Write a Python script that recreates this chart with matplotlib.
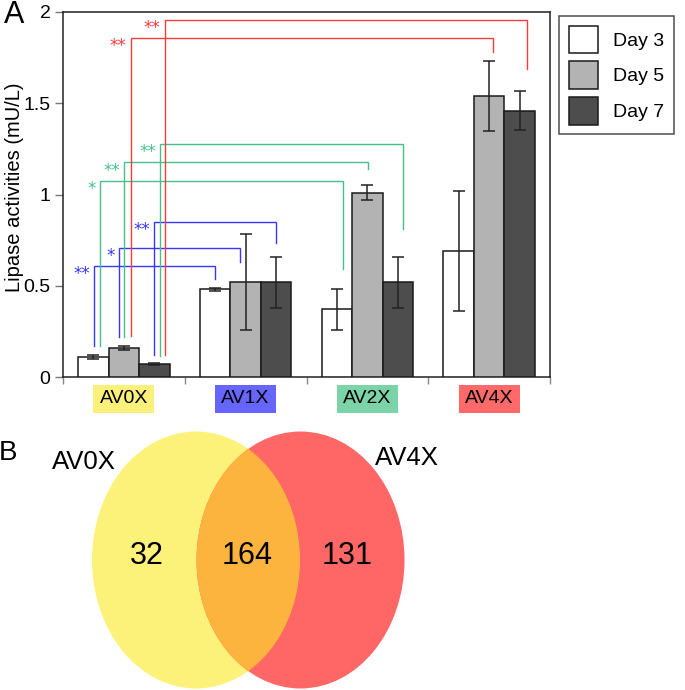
import matplotlib
matplotlib.use("Agg")
import matplotlib.pyplot as plt
from matplotlib.patches import Patch, Ellipse, Rectangle
from matplotlib.transforms import IdentityTransform
from matplotlib import font_manager
import numpy as np

# ---------------- data ----------------
groups = ["AV0X", "AV1X", "AV2X", "AV4X"]
days = ["Day 3", "Day 5", "Day 7"]
day3 = [0.11, 0.48, 0.37, 0.69]
day5 = [0.16, 0.52, 1.01, 1.54]
day7 = [0.07, 0.52, 0.52, 1.46]
err3 = [0.012, 0.01, 0.11, 0.33]
err5 = [0.012, 0.265, 0.04, 0.19]
err7 = [0.004, 0.14, 0.14, 0.105]

# significance comparisons: AV0X (day i) vs target group (same day)
sig_target = [1, 1, 1, 2, 2, 2, 3, 3]
sig_day = [0, 1, 2, 0, 1, 2, 1, 2]
sig_label = ["**", "*", "**", "*", "**", "**", "**", "**"]
sig_start = [0.17, 0.22, 0.122, 0.17, 0.22, 0.117, 0.225, 0.122]
sig_top = [0.608, 0.707, 0.849, 1.074, 1.176, 1.279, 1.858, 1.956]
sig_end = [0.539, 0.63, 0.733, 0.59, 1.14, 0.809, 1.78, 1.69]

venn_sets = ["AV0X", "AV4X"]
venn_only_a = 32
venn_both = 164
venn_only_b = 131

# ---------------- style ----------------
def has_font(name):
    try:
        font_manager.findfont(font_manager.FontProperties(family=name), fallback_to_default=False)
        return True
    except Exception:
        return False

main_font = "Liberation Sans" if has_font("Liberation Sans") else "DejaVu Sans"
narrow_font = "Liberation Sans Narrow" if has_font("Liberation Sans Narrow") else main_font
plt.rcParams["font.family"] = [main_font, "DejaVu Sans"]

bar_colors = ["#ffffff", "#b3b3b3", "#4d4d4d"]
group_colors = ["#fbf07a", "#6666ff", "#7dd3a8", "#ff6969"]
sig_colors = {1: "#3636ff", 2: "#45c088", 3: "#ff3a3a"}
# small horizontal nudges (axis units) to keep bracket legs apart
sig_dx_left = [0.008, -0.04, 0.0, 0.05, 0.005, 0.048, 0.057, 0.084]
sig_dx_right = [0.0, -0.05, 0.0, 0.046, 0.002, 0.043, 0.031, 0.058]

W, H = 685, 690
fig = plt.figure(figsize=(W / 100, H / 100), dpi=100)

# ---------------- panel A ----------------
L, R, T, B = 63, 550, 12, 377
ax = fig.add_axes([L / W, 1 - B / H, (R - L) / W, (B - T) / H])

x = np.arange(len(groups))
bw = 0.25
vals = [day3, day5, day7]
errs = [err3, err5, err7]
for i in range(3):
    ax.bar(x + (i - 1) * bw, vals[i], bw, color=bar_colors[i], edgecolor="#1a1a1a",
           linewidth=1.1, zorder=3, label=days[i])
    ax.errorbar(x + (i - 1) * bw, vals[i], yerr=errs[i], fmt="none", ecolor="#222222",
                elinewidth=1.1, capsize=4, capthick=1.1, zorder=4)

for k in range(len(sig_target)):
    d = sig_day[k]
    c = sig_colors[sig_target[k]]
    x1 = 0 + (d - 1) * bw + sig_dx_left[k]
    x2 = sig_target[k] + (d - 1) * bw + sig_dx_right[k]
    ax.plot([x1, x1, x2, x2], [sig_start[k], sig_top[k], sig_top[k], sig_end[k]],
            color=c, lw=1.0, zorder=2, solid_joinstyle="miter")
    ax.annotate(sig_label[k], xy=(x1, sig_top[k]), xytext=(-3, -9.5),
                textcoords="offset points", ha="right", va="baseline",
                color=c, fontsize=12, family="DejaVu Sans")

ax.set_xlim(-0.5, 3.5)
ax.set_ylim(0, 2)
ax.set_yticks([0, 0.5, 1, 1.5, 2])
ax.set_yticklabels(["0", "0.5", "1", "1.5", "2"])
ax.set_xticks(x)
ax.set_xticklabels(groups)
ax.set_xticks(np.arange(-0.5, 4, 1), minor=True)
ax.tick_params(axis="x", which="major", length=0, pad=9.5, labelsize=14)
ax.tick_params(axis="x", which="minor", length=5, width=1, color="#888888", direction="out")
ax.tick_params(axis="y", which="major", length=6, width=1, color="#777777", pad=3, labelsize=14)
for s in ax.spines.values():
    s.set_linewidth(1.1)
    s.set_color("#222222")
ax.set_ylabel("Lipase activities (mU/L)", fontsize=14.5, va="center")
ax.yaxis.set_label_coords((15 - L) / (R - L), (B - 187) / (B - T))

handles = [Patch(facecolor=bar_colors[i], edgecolor="#1a1a1a", linewidth=1.1) for i in range(3)]
leg = ax.legend(handles, days, loc="upper left", bbox_to_anchor=(559 / W, 1 - 16 / H),
                bbox_transform=fig.transFigure, borderaxespad=0, fontsize=14,
                handlelength=1.5, handleheight=1.8, labelspacing=0.42, borderpad=0.5,
                handletextpad=0.8, fancybox=False, frameon=True)
leg.get_frame().set_edgecolor("#222222")
leg.get_frame().set_linewidth(1.1)

fig.text(14 / W, 1 - 15 / H, "A", fontsize=22, ha="center", va="center")

# colored boxes behind group labels
fig.canvas.draw()
for lbl, c in zip(ax.get_xticklabels(), group_colors):
    bb = lbl.get_window_extent()
    cx = (bb.x0 + bb.x1) / 2
    cy = (bb.y0 + bb.y1) / 2
    bw_px, bh_px = 61, 28
    fig.add_artist(Rectangle((cx - bw_px / 2, cy - bh_px / 2), bw_px, bh_px,
                             facecolor=c, edgecolor="none", transform=IdentityTransform(),
                             zorder=-1))

# ---------------- panel B (Venn) ----------------
vtop = 420
ax2 = fig.add_axes([0, 0, 1, (H - vtop) / H])
ax2.set_xlim(0, W)
ax2.set_ylim(H, vtop)
ax2.set_aspect("equal")
ax2.axis("off")

e1 = Ellipse((196, 560), 208, 257, facecolor="#fcf27a", edgecolor="none")
e2 = Ellipse((300.5, 560), 208, 257, facecolor="#ff6666", edgecolor="none")
ax2.add_patch(e1)
ax2.add_patch(e2)
e3 = Ellipse((196, 560), 208, 257, facecolor="#fdb43e", edgecolor="none")
ax2.add_patch(e3)
e3.set_clip_path(e2)

vfont = [narrow_font, "DejaVu Sans"]
ax2.text(147, 556, str(venn_only_a), fontsize=22, family=vfont, ha="center", va="center")
ax2.text(247, 556, str(venn_both), fontsize=22, family=vfont, ha="center", va="center")
ax2.text(347, 556, str(venn_only_b), fontsize=22, family=vfont, ha="center", va="center")
ax2.text(83.5, 462, venn_sets[0], fontsize=18.5, family=vfont, ha="center", va="center")
ax2.text(406.5, 458, venn_sets[1], fontsize=18.5, family=vfont, ha="center", va="center")
fig.text(8 / W, 1 - 453 / H, "B", fontsize=20, ha="center", va="center")

fig.savefig("out.png", dpi=100)
